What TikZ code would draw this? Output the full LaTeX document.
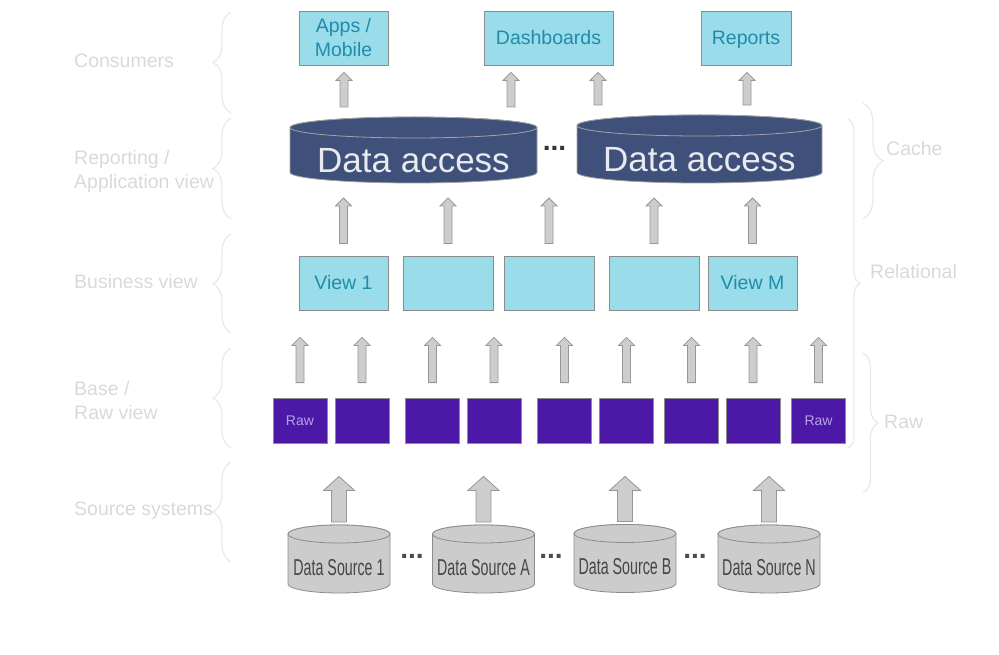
\documentclass[tikz,border=0pt]{standalone}
\usepackage{fontspec}
\usepackage{graphicx}
\setmainfont{Liberation Sans}
\usetikzlibrary{positioning, calc, backgrounds, decorations.pathreplacing}
\definecolor{LayerGray}{RGB}{217,217,217}
\definecolor{BraceGray}{RGB}{232,232,232}
\definecolor{ViewCyan}{RGB}{155,220,235}
\definecolor{ViewText}{RGB}{30,140,170}
\definecolor{AccessBlue}{RGB}{63,80,122}
\definecolor{AccessText}{RGB}{232,234,240}
\definecolor{RawPurple}{RGB}{75,25,165}
\definecolor{RawText}{RGB}{185,160,235}
\definecolor{SourceGray}{RGB}{204,204,204}
\definecolor{SourceText}{RGB}{70,70,70}
\definecolor{EdgeGray}{RGB}{140,140,140}
\definecolor{ArrowFill}{RGB}{205,205,205}
\definecolor{ArrowEdge}{RGB}{150,150,150}
\newcommand{\layerfont}{\fontsize{19.5}{24}\selectfont}
% drum behind a node: #1 node, #2 x radius, #3 y radius, #4 style
\newcommand{\drum}[4]{%
  \path[#4] ([yshift=-#3]#1.north west) -- ([yshift=#3]#1.south west)
    arc[start angle=180, end angle=360, x radius=#2, y radius=#3]
    -- ([yshift=-#3]#1.north east)
    arc[start angle=0, end angle=180, x radius=#2, y radius=#3] -- cycle;
  \path[#4] ([yshift=-#3]#1.north) ellipse[x radius=#2, y radius=#3];
}

\tikzset{
  layer/.style={anchor=west, text=LayerGray, font=\layerfont, align=left, inner sep=0pt},
  layerbrace/.style={draw=BraceGray, line width=1.2pt, decorate, decoration={brace, amplitude=#1}},
  viewbox/.style={draw=EdgeGray, fill=ViewCyan, text=ViewText, font=\layerfont, align=center, minimum height=54, inner sep=0pt, line width=0.8pt},
  rawbox/.style={draw=EdgeGray, fill=RawPurple, text=RawText, font=\fontsize{14}{16}\selectfont, minimum width=54, minimum height=45, inner sep=0pt, line width=0.8pt},
  access/.style={text=AccessText, font=\fontsize{35}{40}\selectfont, text height=45pt, text depth=0pt, minimum width=247, minimum height=66, inner sep=0pt, outer sep=0pt},
  source/.style={text=SourceText, font=\fontsize{23}{26}\selectfont, text height=32.5pt, text depth=0pt, minimum width=102, minimum height=68, inner sep=0pt, outer sep=0pt},
  accessdrum/.style={draw=EdgeGray!80, fill=AccessBlue, line width=0.8pt},
  sourcedrum/.style={draw=EdgeGray, fill=SourceGray, line width=0.8pt},
  gapdots/.style={font=\bfseries\fontsize{28}{30}\selectfont, text=#1, inner sep=0pt},
  blockarrow/.style 2 args={draw=ArrowEdge, fill=ArrowFill, line width=0.8pt, to path={
    let \p1=(\tikztostart), \p2=(\tikztotarget) in
    ({\x1-\shaftw},{\y1+#1}) -- ({\x1+\shaftw},{\y1+#1}) -- ({\x1+\shaftw},{\y2-#2-\headl})
    -- ({\x1+\headw},{\y2-#2-\headl}) -- (\x1,{\y2-#2}) -- ({\x1-\headw},{\y2-#2-\headl})
    -- ({\x1-\shaftw},{\y2-#2-\headl}) -- cycle}},
  thin arrow/.code={\def\shaftw{4pt}\def\headw{8pt}\def\headl{8pt}},
  fat arrow/.code={\def\shaftw{7.5pt}\def\headw{15.5pt}\def\headl{14pt}},
}

\begin{document}
\begin{tikzpicture}[x=1pt, y=-1pt]
  \useasboundingbox (0,0) rectangle (999,655);

  % Layer labels
  \node[layer] (consumers) at (74,61) {Consumers};
  \node[layer] (reporting) at (74,171) {Reporting /\\Application view};
  \node[layer] (business) at (74,282) {Business view};
  \node[layer] (base) at (74,401) {Base /\\Raw view};
  \node[layer] (sources) at (74,511) {Source systems};
  \node[layer] (cache) at (886,149) {Cache};
  \node[layer] (relational) at (870,272) {Relational};
  \node[layer] (rawlabel) at (884,422) {Raw};

  % Braces
  \draw[layerbrace=18pt] (231,113) -- (231,12);
  \draw[layerbrace=18pt] (231,219) -- (231,118);
  \draw[layerbrace=18pt] (231,333) -- (231,234);
  \draw[layerbrace=18pt] (231,448) -- (231,348);
  \draw[layerbrace=18pt] (231,562) -- (231,462);
  \draw[layerbrace=20pt] (863,103) -- (863,219);
  \draw[layerbrace=12pt] (848,119) -- (848,448);
  \draw[layerbrace=15pt] (863,353) -- (863,493);

  % Consumers
  \node[viewbox, minimum width=89] (apps) at (343.5,38) {Apps /\\Mobile};
  \node[viewbox, minimum width=129] (dash) at (548.5,38) {Dashboards};
  \node[viewbox, minimum width=90, text depth=0pt] (reports) at (746,38) {Reports};

  % Data access
  \node[access] (da1) at (413.5,150) {Data access};
  \node[access, minimum width=245, minimum height=68] (da2) at (699.5,149) {Data access};
  \node[gapdots=black!80] (dagap) at (554.5,148) {...};

  % Views
  \node[viewbox, minimum width=89] (view1) at (343.5,283) {View 1};
  \node[viewbox, minimum width=90] (view2) at (448,283) {};
  \node[viewbox, minimum width=90] (view3) at (549,283) {};
  \node[viewbox, minimum width=90] (view4) at (654,283) {};
  \node[viewbox, minimum width=89] (viewM) at (752.5,283) {View M};

  % Raw tables
  \node[rawbox] (raw1) at (300,420.5) {Raw};
  \foreach \x [count=\i from 2] in {362,432.5,494,564.5,626.5,691.5,753}
    \node[rawbox] (raw\i) at (\x,420.5) {};
  \node[rawbox] (raw9) at (818.5,420.5) {Raw};

  % Source systems
  \node[source] (ds1) at (339,559) {\scalebox{0.62}[1]{Data Source 1}};
  \node[source] (dsA) at (483.5,559) {\scalebox{0.62}[1]{Data Source A}};
  \node[source] (dsB) at (625,558.5) {\scalebox{0.62}[1]{Data Source B}};
  \node[source] (dsN) at (769,559) {\scalebox{0.62}[1]{Data Source N}};
  \node[gapdots=black!70] (gap1) at (412,556) {...};
  \node[gapdots=black!70] (gap2) at (551,556) {...};
  \node[gapdots=black!70] (gap3) at (695,556) {...};

  % Drums
  \begin{scope}[on background layer]
    \drum{da1}{123.5pt}{10.5pt}{accessdrum}
    \drum{da2}{122.5pt}{10.5pt}{accessdrum}
    \foreach \s in {ds1,dsA,dsB,dsN}{
      \drum{\s}{51pt}{9pt}{sourcedrum}
    }
  \end{scope}

  % Arrows
  \foreach \i/\v in {1/view1,2/view1,3/view2,4/view2,5/view3,6/view4,7/view4,8/viewM,9/viewM}
    \draw[blockarrow={15pt}{27pt}, thin arrow] (raw\i.north) to (\v.south);
  \foreach \v/\d in {view1/da1,view2/da1,view3/da1,view4/da2,viewM/da2}
    \draw[blockarrow={12pt}{15pt}, thin arrow] (\v.north) to (\d.south);
  \draw[blockarrow={10pt}{7pt}, thin arrow] ([xshift=-69.5]da1.north) to (apps.south);
  \draw[blockarrow={10pt}{7pt}, thin arrow] ([xshift=97.5]da1.north) to (dash.south);
  \draw[blockarrow={10pt}{7pt}, thin arrow] ([xshift=-101.5]da2.north) to (dash.south);
  \draw[blockarrow={10pt}{7pt}, thin arrow] ([xshift=47.5]da2.north) to (reports.south);
  \foreach \s/\r in {ds1/raw1,dsA/raw4,dsB/raw6,dsN/raw8}
    \draw[blockarrow={3pt}{33pt}, fat arrow] (\s.north) to (\r.south);
\end{tikzpicture}
\end{document}
